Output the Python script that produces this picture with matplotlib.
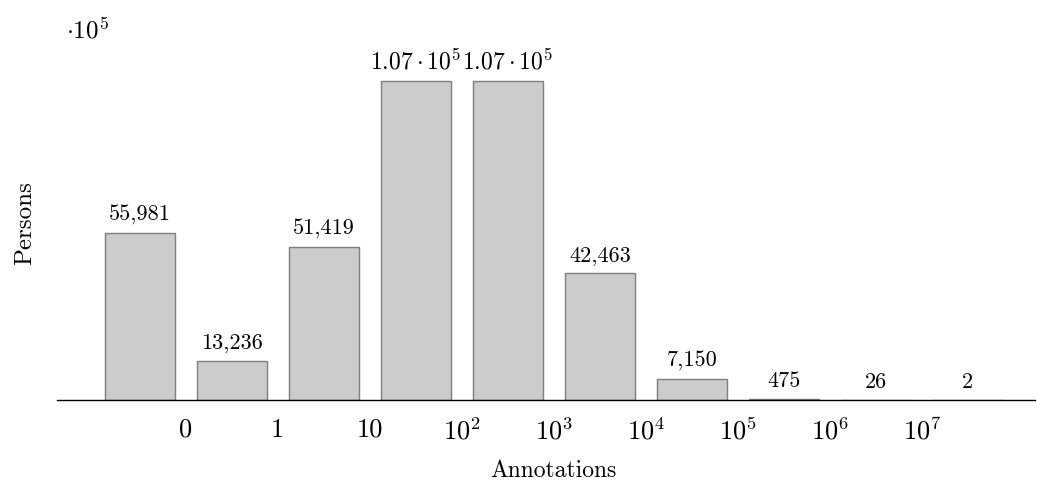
import matplotlib
matplotlib.use("Agg")
import matplotlib.pyplot as plt

plt.rcParams['mathtext.fontset'] = 'cm'
plt.rcParams['font.family'] = ['cmr10', 'DejaVu Serif']
plt.rcParams['axes.formatter.use_mathtext'] = True

values = [55981, 13236, 51419, 107000, 107000, 42463, 7150, 475, 26, 2]
value_labels = ['55,981', '13,236', '51,419', r'$1.07\cdot10^5$', r'$1.07\cdot10^5$',
                '42,463', '7,150', '475', '26', '2']
tick_labels = ['0', '1', '10', r'$10^2$', r'$10^3$', r'$10^4$', r'$10^5$', r'$10^6$', r'$10^7$']
xlabel = 'Annotations'
ylabel = 'Persons'

W, H = 1038, 483
fig = plt.figure(figsize=(W / 100, H / 100), dpi=100)
ax = fig.add_axes([57 / W, 83 / H, (1035 - 57) / W, (400 - 42) / H])

x = list(range(len(values)))
ax.bar(x, values, width=0.76, color='#cccccc', edgecolor='#7f7f7f', linewidth=1.0)
for xi, v, lab in zip(x, values, value_labels):
    fs = 17 if lab.startswith('$') else 16
    ax.annotate(lab, (xi, v), xytext=(0, 8.6), textcoords='offset points',
                ha='center', va='baseline', fontsize=fs)

ax.set_xlim(-0.90, 9.73)
ax.set_ylim(0, 1.2e5)
ax.set_xticks([i + 0.5 for i in range(len(tick_labels))])
ax.set_xticklabels(tick_labels, fontsize=19)
ax.tick_params(axis='x', length=0, pad=13)
ax.set_yticks([])
for s in ['top', 'left', 'right']:
    ax.spines[s].set_visible(False)
ax.spines['bottom'].set_linewidth(1.0)
ax.spines['bottom'].set_color('black')

fig.text(553 / W, 1 - 477 / H, xlabel, ha='center', va='baseline', fontsize=17)
fig.text(31 / W, 1 - 223 / H, ylabel, rotation=90, ha='center', va='baseline',
         fontsize=18, rotation_mode='anchor')
fig.text(66 / W, 1 - 38 / H, r'$\cdot10^5$', ha='left', va='baseline', fontsize=18)

fig.savefig('out.png', dpi=100)
